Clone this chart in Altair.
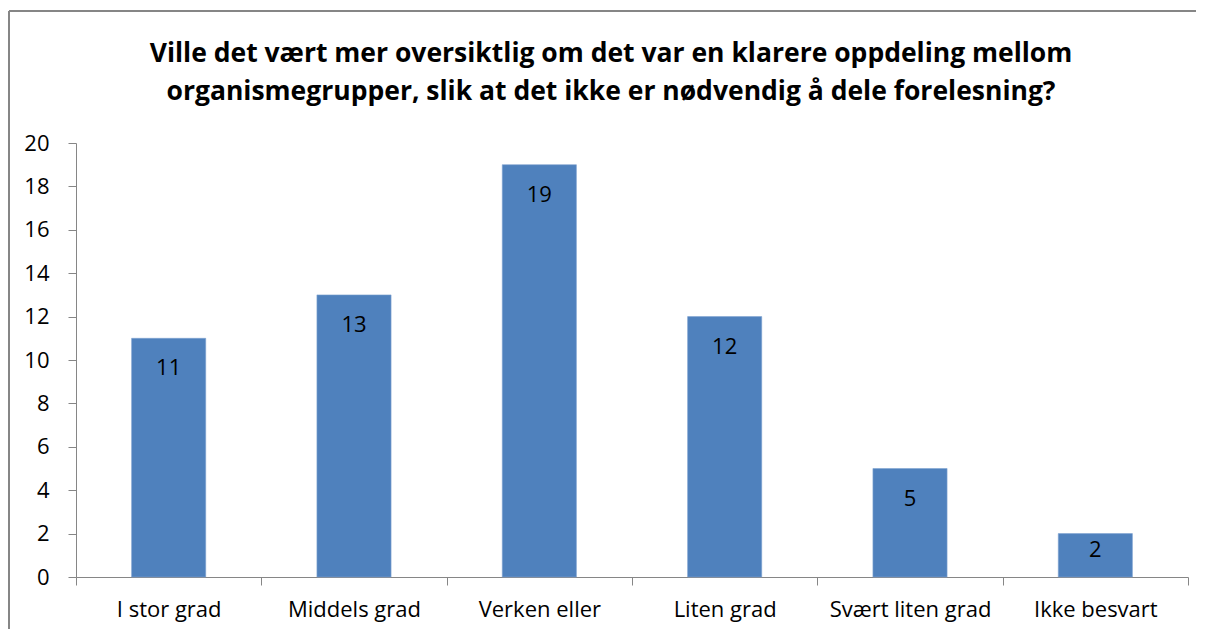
import altair as alt
import pandas as pd

categories = ["I stor grad", "Middels grad", "Verken eller", "Liten grad", "Svært liten grad", "Ikke besvart"]
values = [11, 13, 19, 12, 5, 2]
y_ticks = list(range(0, 21, 2))
title_lines = [
    "Ville det vært mer oversiktlig om det var en klarere oppdeling mellom",
    "organismegrupper, slik at det ikke er nødvendig å dele forelesning?",
]

df = pd.DataFrame({"cat": categories, "value": values})
FONT = "Open Sans"
GRAY = "#868686"
LBL = 22

x = alt.X("cat:N", sort=categories, title=None,
          scale=alt.Scale(paddingInner=0, paddingOuter=0),
          axis=alt.Axis(labelAngle=0, labelFontSize=LBL, labelFont=FONT, labelColor="#000000",
                        labelPadding=14, tickBand="extent", tickSize=8, tickColor=GRAY,
                        domainColor=GRAY, ticks=True))
y = alt.Y("value:Q", title=None,
          scale=alt.Scale(domain=[0, 20], nice=False),
          axis=alt.Axis(values=y_ticks, grid=False, labelFontSize=LBL, labelFont=FONT,
                        labelColor="#000000", labelPadding=19, tickSize=8, tickColor=GRAY,
                        domainColor=GRAY))

base = alt.Chart(df)
bars = base.mark_bar(color="#4F81BD", stroke="#7FA3D0", strokeWidth=0.6,
                     width=alt.RelativeBandSize(0.4)).encode(x=x, y=y)

label_enc = dict(x=alt.X("cat:N", sort=categories), y=alt.Y("value:Q"), text=alt.Text("value:Q"))
labels_tall = base.transform_filter("datum.value >= 3").mark_text(
    fontSize=LBL, font=FONT, color="#000000", baseline="middle", dy=30).encode(**label_enc)
labels_short = base.transform_filter("datum.value < 3").mark_text(
    fontSize=LBL, font=FONT, color="#000000", baseline="middle", dy=16).encode(**label_enc)

title = base.transform_filter("datum.cat == 'I stor grad'").mark_text(
    font=FONT, fontSize=26.5, fontWeight="bold", color="#000000", align="center",
    baseline="alphabetic", lineHeight=38).encode(
    x=alt.value(535), y=alt.value(-81), text=alt.value(title_lines))

frame_top = base.mark_rule(color=GRAY, strokeWidth=1.5).encode(
    x=alt.value(-67), x2=alt.value(1120), y=alt.value(-132))
frame_left = base.mark_rule(color=GRAY, strokeWidth=1.5).encode(
    x=alt.value(-67), y=alt.value(-132), y2=alt.value(490))

chart = alt.layer(frame_top, frame_left, title, bars, labels_tall, labels_short).properties(
    width=1112, height=434,
    autosize=alt.AutoSizeParams(type="none"),
    padding={"left": 68, "top": 135, "right": 17, "bottom": 52},
).configure(background="white").configure_view(stroke=None)

chart.save("out.html", embed_options={"renderer": "svg", "actions": False})
